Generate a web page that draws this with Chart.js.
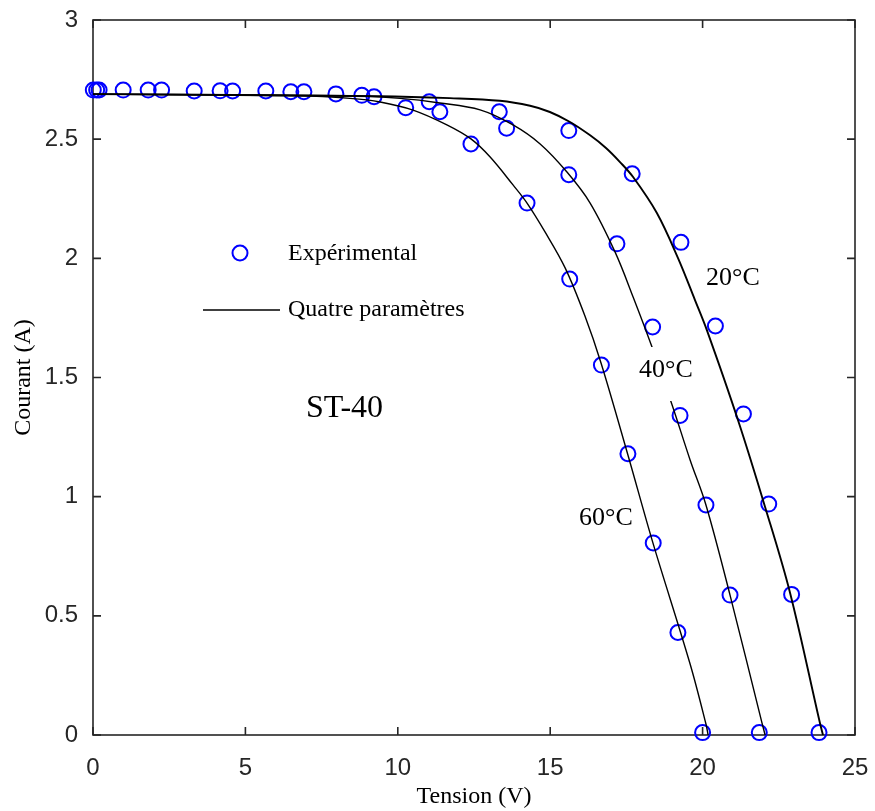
<!DOCTYPE html>
<html>
<head>
<meta charset="utf-8">
<title>ST-40 - Courant / Tension</title>
<script src="https://cdn.jsdelivr.net/npm/chart.js@4.4.1/dist/chart.umd.min.js"></script>
<style>
  html, body { margin: 0; padding: 0; background: #fff; }
  #wrap { width: 875px; height: 811px; }
</style>
</head>
<body>
<div id="wrap"><canvas id="ivChart"></canvas></div>
<script>
// Points mesurés [tension (V), courant (A)]
const exp20 = [[0.2, 2.706], [0.99, 2.706], [3.32, 2.702], [5.67, 2.702], [7.97, 2.690], [11.03, 2.657],
  [13.33, 2.615], [15.61, 2.536], [17.69, 2.355], [19.29, 2.067], [20.42, 1.716], [21.34, 1.347],
  [22.17, 0.969], [22.92, 0.590], [23.82, 0.010]];
const exp40 = [[0.12, 2.706], [2.25, 2.706], [4.58, 2.702], [6.92, 2.699], [9.22, 2.678], [13.57, 2.546],
  [15.61, 2.351], [17.19, 2.061], [18.36, 1.712], [19.26, 1.341], [20.11, 0.965], [20.90, 0.587],
  [21.86, 0.010]];
const exp60 = [[0.01, 2.706], [1.81, 2.706], [4.17, 2.703], [6.49, 2.699], [8.82, 2.684], [10.26, 2.632],
  [11.38, 2.615], [12.40, 2.480], [14.24, 2.232], [15.64, 1.913], [16.68, 1.552], [17.55, 1.180],
  [18.38, 0.806], [19.19, 0.430], [20.00, 0.010]];

// Modèle à quatre paramètres
const fit20 = [[0, 2.689], [9.42, 2.680], [11.71, 2.672], [13.35, 2.661], [14.34, 2.640], [14.99, 2.614],
  [15.65, 2.572], [16.31, 2.516], [16.83, 2.463], [17.29, 2.404], [17.72, 2.341], [18.50, 2.190],
  [19.19, 2.002], [19.75, 1.825], [20.14, 1.699], [21.16, 1.322], [22.05, 0.957], [22.87, 0.596],
  [23.85, 0.050], [23.95, 0]];
const fit40 = [[0, 2.689], [8.43, 2.682], [10.07, 2.671], [11.38, 2.652], [12.70, 2.623], [13.78, 2.560],
  [14.67, 2.480], [15.55, 2.362], [16.31, 2.232], [17.13, 2.026], [17.72, 1.838], [18.34, 1.628],
  [19.00, 1.385], [19.59, 1.154], [20.11, 0.965], [20.90, 0.587], [21.95, 0.050], [22.05, 0]];
const fit60 = [[0, 2.689], [6.79, 2.682], [8.43, 2.671], [9.42, 2.656], [10.50, 2.622], [11.61, 2.560],
  [12.40, 2.501], [13.03, 2.425], [13.78, 2.308], [14.24, 2.232], [14.83, 2.111], [15.49, 1.960],
  [16.14, 1.758], [16.67, 1.560], [17.55, 1.175], [18.37, 0.806], [19.59, 0.298], [20.11, 0.046],
  [20.18, 0]];

const xTicks = [0, 5, 10, 15, 20, 25];
const yTicks = [0, 0.5, 1, 1.5, 2, 2.5, 3];

const toXY = arr => arr.map(p => ({ x: p[0], y: p[1] }));

const markerStyle = {
  showLine: false,
  pointStyle: 'circle',
  pointRadius: 7.5,
  pointBorderWidth: 2,
  pointBorderColor: '#0000ff',
  pointBackgroundColor: 'rgba(0,0,0,0)',
  clip: 12
};
const curveStyle = w => ({
  showLine: true,
  pointRadius: 0,
  borderColor: '#000',
  borderWidth: w,
  tension: 0.35,
  fill: false
});

const tickLen = 8;
const serif = '"Liberation Serif", "Times New Roman", serif';
const sans = '"Liberation Sans", Arial, sans-serif';

// cadre + graduations vers l'intérieur, sur les 4 côtés
const framePlugin = {
  id: 'frame',
  beforeDatasetsDraw(chart) {
    const { ctx, chartArea: a, scales: { x, y } } = chart;
    ctx.save();
    ctx.strokeStyle = '#262626';
    ctx.lineWidth = 1.6;
    ctx.strokeRect(a.left, a.top, a.right - a.left, a.bottom - a.top);
    ctx.beginPath();
    xTicks.forEach(v => {
      const px = x.getPixelForValue(v);
      ctx.moveTo(px, a.bottom); ctx.lineTo(px, a.bottom - tickLen);
      ctx.moveTo(px, a.top); ctx.lineTo(px, a.top + tickLen);
    });
    yTicks.forEach(v => {
      const py = y.getPixelForValue(v);
      ctx.moveTo(a.left, py); ctx.lineTo(a.left + tickLen, py);
      ctx.moveTo(a.right, py); ctx.lineTo(a.right - tickLen, py);
    });
    ctx.stroke();
    ctx.restore();
  }
};

// étiquettes de température, nom du module et légende
const notesPlugin = {
  id: 'notes',
  afterDatasetsDraw(chart) {
    const { ctx } = chart;
    ctx.save();
    ctx.fillStyle = '#000';
    ctx.textBaseline = 'middle';
    ctx.textAlign = 'left';

    ctx.font = '26px ' + serif;
    ctx.fillText('20°C', 706, 278);
    ctx.fillText('60°C', 579, 518);
    // le 40°C a un fond blanc qui masque la courbe
    ctx.fillStyle = '#fff';
    ctx.fillRect(634, 347, 64, 54);
    ctx.fillStyle = '#000';
    ctx.fillText('40°C', 639, 370);

    ctx.font = '32px ' + serif;
    ctx.fillText('ST-40', 306, 409);

    // légende
    ctx.font = '24px ' + serif;
    ctx.beginPath();
    ctx.arc(240, 253, 7.5, 0, Math.PI * 2);
    ctx.strokeStyle = '#0000ff';
    ctx.lineWidth = 2;
    ctx.stroke();
    ctx.fillText('Expérimental', 288, 254);

    ctx.beginPath();
    ctx.moveTo(203, 310);
    ctx.lineTo(280, 310);
    ctx.strokeStyle = '#000';
    ctx.lineWidth = 1.3;
    ctx.stroke();
    ctx.fillText('Quatre paramètres', 288, 310);
    ctx.restore();
  }
};

new Chart(document.getElementById('ivChart'), {
  type: 'scatter',
  data: {
    datasets: [
      { label: '20°C', data: toXY(fit20), ...curveStyle(1.9) },
      { label: '40°C', data: toXY(fit40), ...curveStyle(1.4) },
      { label: '60°C', data: toXY(fit60), ...curveStyle(1.4) },
      { label: 'exp 20°C', data: toXY(exp20), ...markerStyle },
      { label: 'exp 40°C', data: toXY(exp40), ...markerStyle },
      { label: 'exp 60°C', data: toXY(exp60), ...markerStyle }
    ]
  },
  options: {
    responsive: true,
    maintainAspectRatio: false,
    animation: false,
    events: [],
    devicePixelRatio: 1,
    layout: { padding: { top: 20, right: 20, left: 0, bottom: 0 } },
    plugins: {
      legend: { display: false },
      tooltip: { enabled: false }
    },
    scales: {
      x: {
        type: 'linear',
        min: 0,
        max: 25,
        grid: { display: false, drawTicks: false },
        border: { display: false },
        afterBuildTicks: s => { s.ticks = xTicks.map(v => ({ value: v })); },
        afterFit: s => { s.height = 76; s.paddingLeft = 0; s.paddingRight = 0; },
        ticks: {
          padding: 19,
          color: '#262626',
          font: { family: sans, size: 24 },
          callback: v => String(v)
        },
        title: {
          display: true,
          text: 'Tension (V)',
          color: '#000',
          font: { family: serif, size: 24 },
          padding: { top: 0, bottom: 0 }
        }
      },
      y: {
        type: 'linear',
        min: 0,
        max: 3,
        grid: { display: false, drawTicks: false },
        border: { display: false },
        afterBuildTicks: s => { s.ticks = yTicks.map(v => ({ value: v })); },
        afterFit: s => { s.width = 93; s.paddingTop = 0; s.paddingBottom = 0; },
        ticks: {
          padding: 15,
          color: '#262626',
          font: { family: sans, size: 24 },
          callback: v => String(v)
        },
        title: {
          display: true,
          text: 'Courant (A)',
          color: '#000',
          font: { family: serif, size: 24 },
          padding: { top: 9, bottom: 0 }
        }
      }
    }
  },
  plugins: [framePlugin, notesPlugin]
});
</script>
</body>
</html>
